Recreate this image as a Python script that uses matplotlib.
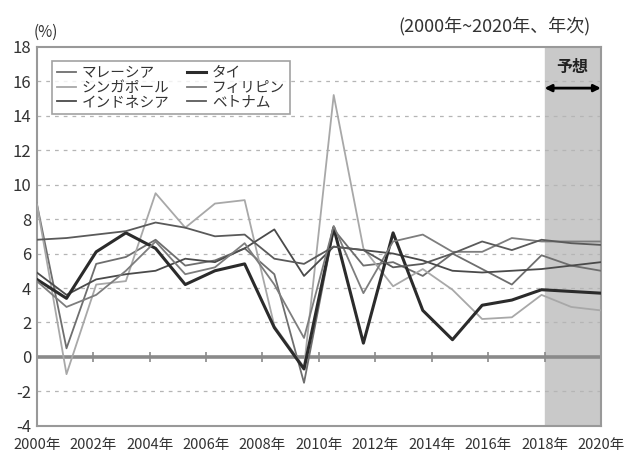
import numpy as np
import matplotlib
matplotlib.use("Agg")
import matplotlib.pyplot as plt

plt.rcParams['font.family'] = ['Noto Sans CJK JP', 'DejaVu Sans']

# 年別の実質GDP成長率 (%), 2000-2019 (グラフ上は横幅いっぱいに配置)
years = list(range(2000, 2020))
malaysia = [8.9, 0.5, 5.4, 5.8, 6.8, 5.3, 5.6, 6.3, 4.8, -1.5, 7.4, 5.3, 5.5, 4.7, 6.0, 5.1, 4.2, 5.9, 5.3, 5.0]
singapore = [8.9, -1.0, 4.2, 4.4, 9.5, 7.5, 8.9, 9.1, 1.8, -0.6, 15.2, 6.3, 4.1, 5.1, 3.9, 2.2, 2.3, 3.6, 2.9, 2.7]
indonesia = [4.9, 3.6, 4.5, 4.8, 5.0, 5.7, 5.5, 6.3, 7.4, 4.7, 6.4, 6.2, 6.0, 5.6, 5.0, 4.9, 5.0, 5.1, 5.3, 5.5]
thailand = [4.5, 3.4, 6.1, 7.2, 6.3, 4.2, 5.0, 5.4, 1.7, -0.7, 7.5, 0.8, 7.2, 2.7, 1.0, 3.0, 3.3, 3.9, 3.8, 3.7]
philippines = [4.4, 2.9, 3.6, 5.0, 6.7, 4.8, 5.2, 6.6, 4.2, 1.1, 7.6, 3.7, 6.7, 7.1, 6.1, 6.1, 6.9, 6.7, 6.7, 6.7]
vietnam = [6.8, 6.9, 7.1, 7.3, 7.8, 7.5, 7.0, 7.1, 5.7, 5.4, 6.4, 6.2, 5.2, 5.4, 6.0, 6.7, 6.2, 6.8, 6.6, 6.5]

tick_labels = ['%d年' % y for y in range(2000, 2021, 2)]
forecast_label = 2018

fig = plt.figure(figsize=(6.24, 4.54), dpi=100)
ax = fig.add_axes([0.059, 0.062, 0.904, 0.835])

x = np.arange(len(years))
xmax = len(years) - 1
tick_pos = np.linspace(0, xmax, len(tick_labels))
shade_start = tick_pos[tick_labels.index('%d年' % forecast_label)]

# 予想期間の網掛け
ax.axvspan(shade_start, xmax, color='#c9c9c9', zorder=0)

# grid
for yv in range(-2, 18, 2):
    if yv != 0:
        ax.axhline(yv, color='#b5b5b5', lw=0.9, ls=(0, (3, 4)), zorder=1)
ax.axhline(0, color='#8a8a8a', lw=2.6, zorder=2)
ax.plot(tick_pos[1:-1], [0] * (len(tick_pos) - 2), ls='none', marker='|',
        ms=7, mew=1.2, color='#8a8a8a', zorder=2)

series = [
    ('マレーシア', malaysia, '#6e6e6e', 1.3),
    ('シンガポール', singapore, '#a8a8a8', 1.3),
    ('インドネシア', indonesia, '#4a4a4a', 1.3),
    ('タイ', thailand, '#2b2b2b', 2.2),
    ('フィリピン', philippines, '#7d7d7d', 1.3),
    ('ベトナム', vietnam, '#5a5a5a', 1.3),
]
for name, vals, c, lw in series:
    ax.plot(x, vals, color=c, lw=lw, label=name, zorder=3)

ax.set_xlim(0, xmax)
ax.set_ylim(-4, 18)
ax.set_yticks(range(-4, 19, 2))
ax.set_yticklabels([str(v) for v in range(-4, 19, 2)], fontsize=12, color='#333333')
ax.set_xticks(tick_pos)
ax.set_xticklabels(tick_labels, fontsize=10.5, color='#333333')
ax.tick_params(axis='x', length=0, pad=9)
ax.tick_params(axis='y', length=0, pad=4)
for s in ax.spines.values():
    s.set_color('#999999')
    s.set_linewidth(1.5)

leg = ax.legend(ncol=2, loc='upper left', bbox_to_anchor=(0.027, 0.963),
                fontsize=10.5, frameon=True, fancybox=False, handlelength=1.3,
                handletextpad=0.4, columnspacing=1.2, labelspacing=0.05,
                borderpad=0.35, borderaxespad=0)
leg.get_frame().set_edgecolor('#8a8a8a')
leg.get_frame().set_linewidth(1.2)
for t in leg.get_texts():
    t.set_color('#333333')

# 予想 label and arrow
ax.text((shade_start + xmax) / 2, 16.8, '予想', ha='center', va='center',
        fontsize=11.5, fontweight='bold', color='#222222')
ax.annotate('', xy=(shade_start, 15.6), xytext=(xmax, 15.6),
            arrowprops=dict(arrowstyle='<|-|>', color='black', lw=2,
                            mutation_scale=10, shrinkA=0, shrinkB=0))

fig.text(0.054, 0.928, '(%)', fontsize=11, color='#333333', va='center')
fig.text(0.946, 0.943, '(2000年~2020年、年次)', fontsize=13, color='#333333',
         ha='right', va='center')

fig.savefig('out.png', dpi=100)
